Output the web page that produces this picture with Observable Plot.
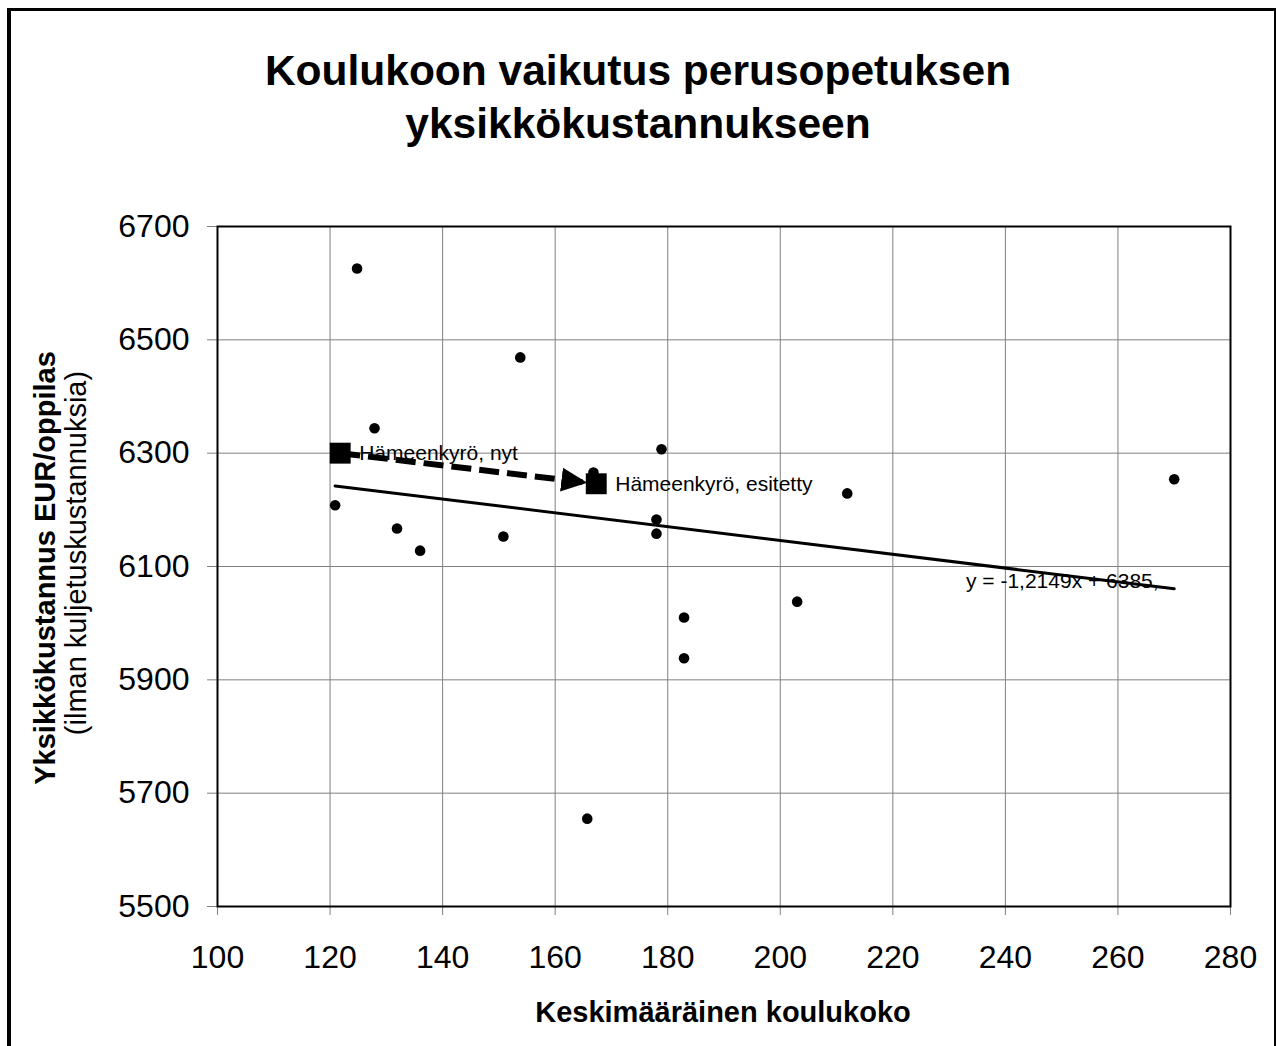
<!DOCTYPE html>
<html>
<head>
<meta charset="utf-8">
<script src="https://cdn.jsdelivr.net/npm/d3@7"></script>
<script src="https://cdn.jsdelivr.net/npm/@observablehq/plot@0.6"></script>
<style>
  body { margin: 0; background: #fff; font-family: "Liberation Sans", Arial, sans-serif; }
  #wrap { position: relative; width: 1276px; height: 1046px; overflow: hidden; background: #fff; }
  #chart { position: absolute; left: 0; top: 0; }
  #frame { position: absolute; left: 7px; top: 8px; width: 1263px; height: 1100px;
           border-left: 4px solid #000; border-top: 3px solid #000; border-right: 2px solid #000;
           pointer-events: none; }
  #title { position: absolute; left: 0; width: 1276px; top: 44px; text-align: center;
           font-weight: bold; font-size: 42.5px; line-height: 53px; color: #000; }
  .rot { position: absolute; transform: translate(-50%, -50%) rotate(-90deg);
         white-space: nowrap; color: #000; font-size: 29px; line-height: 33px; }
  #ytitle { left: 45px; top: 568px; font-weight: bold; }
  #ysub { left: 76px; top: 553px; }
  #xtitle { position: absolute; left: 723px; top: 996px; transform: translateX(-50%);
            white-space: nowrap; font-weight: bold; font-size: 29px; line-height: 33px; color: #000; }
</style>
</head>
<body>
<div id="wrap">
  <div id="chart"></div>
  <div id="title">Koulukoon vaikutus perusopetuksen<br>yksikkökustannukseen</div>
  <div id="ytitle" class="rot">Yksikkökustannus EUR/oppilas</div>
  <div id="ysub" class="rot">(ilman kuljetuskustannuksia)</div>
  <div id="xtitle">Keskimääräinen koulukoko</div>
  <div id="frame"></div>
</div>
<script>
// ---- data ----
const schoolSize = [124.8, 153.8, 127.9, 178.9, 166.8, 120.9, 131.9, 136.0, 150.8,
                    178.0, 178.0, 211.9, 270.0, 182.9, 182.9, 203.0, 165.7];
const unitCost   = [6626, 6469, 6344, 6307, 6266, 6208, 6167, 6128, 6153,
                    6183, 6158, 6229, 6254, 6010, 5938, 6038, 5655];

const hkLabels = ["Hämeenkyrö, nyt", "Hämeenkyrö, esitetty"];
const hkSize   = [121.8, 167.3];
const hkCost   = [6300, 6246];

const trendLabel = ["y = -1,2149x + 6385,"];
const trendLabelX = [233];
const trendLabelY = [6074];

const xTicks = [100, 120, 140, 160, 180, 200, 220, 240, 260, 280];
const yTicks = [5500, 5700, 5900, 6100, 6300, 6500, 6700];

const points = schoolSize.map((x, i) => ({x, y: unitCost[i]}));
const hk = hkLabels.map((label, i) => ({label, x: hkSize[i], y: hkCost[i]}));
const move = [{x1: hkSize[0], y1: hkCost[0], x2: hkSize[1], y2: hkCost[1]}];
const tl = trendLabel.map((t, i) => ({t, x: trendLabelX[i], y: trendLabelY[i]}));

const chart = Plot.plot({
  width: 1276,
  height: 1046,
  marginLeft: 217,
  marginRight: 46,
  marginTop: 226,
  marginBottom: 140,
  style: {fontFamily: '"Liberation Sans", Arial, sans-serif', background: "transparent", color: "black"},
  x: {domain: [100, 280]},
  y: {domain: [5500, 6700]},
  marks: [
    Plot.gridX(xTicks, {stroke: "#808080", strokeOpacity: 1, strokeWidth: 1}),
    Plot.gridY(yTicks, {stroke: "#808080", strokeOpacity: 1, strokeWidth: 1}),
    Plot.axisX(xTicks, {tickSize: 9, tickPadding: 30, fontSize: 32, tickFormat: "d", label: null, stroke: "#808080", fill: "black"}),
    Plot.axisY(yTicks, {tickSize: 10, tickPadding: 18, fontSize: 32, tickFormat: "d", label: null, stroke: "#808080", fill: "black"}),
    Plot.frame({stroke: "black", strokeWidth: 2}),
    Plot.linearRegressionY(points, {x: "x", y: "y", stroke: "black", strokeWidth: 3, ci: 0}),
    Plot.dot(points, {x: "x", y: "y", r: 5.3, fill: "black"}),
    Plot.link(move, {x1: "x1", y1: "y1", x2: "x2", y2: "y2", stroke: "black", strokeWidth: 6, strokeDasharray: "20,8"}),
    Plot.dot(hk, {x: "x", y: "y", symbol: "square", r: 11.8, fill: "black"}),
    Plot.text(hk, {x: "x", y: "y", text: "label", textAnchor: "start", dx: 19, fontSize: 21, fill: "black"}),
    Plot.text(tl, {x: "x", y: "y", text: "t", textAnchor: "start", fontSize: 21, fill: "black"})
  ]
});
document.getElementById("chart").appendChild(chart);

// filled arrowhead on the dashed movement line
const svg = d3.select(chart);
const defs = svg.insert("defs", ":first-child");
defs.append("marker")
  .attr("id", "hk-arrow")
  .attr("markerUnits", "userSpaceOnUse")
  .attr("markerWidth", 40)
  .attr("markerHeight", 30)
  .attr("refX", 35)
  .attr("refY", 12)
  .attr("orient", "auto")
  .append("path")
  .attr("d", "M0,0L26,12L0,24Z")
  .attr("fill", "black")
  .attr("stroke", "none")
  .attr("stroke-dasharray", "none");
svg.selectAll("g[stroke-dasharray] path, path[stroke-dasharray]").attr("marker-end", "url(#hk-arrow)");
</script>
</body>
</html>
